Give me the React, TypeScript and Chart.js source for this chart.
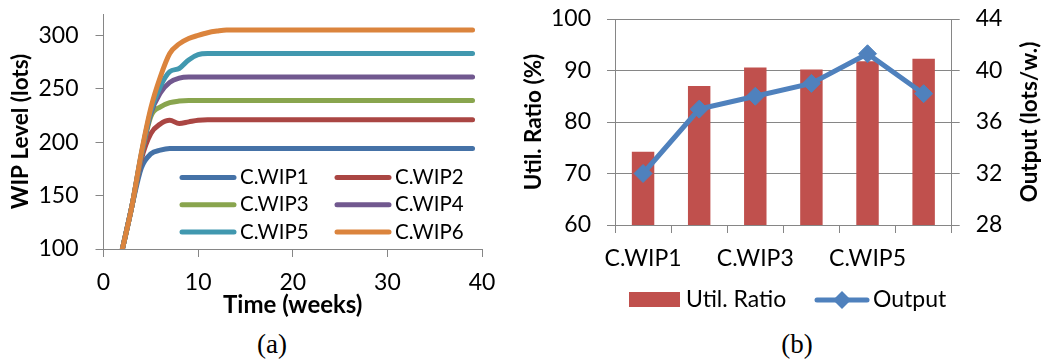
import React, { useEffect, useRef } from 'react';
import { Chart, registerables } from 'chart.js';

Chart.register(...registerables);

// ---------- Chart (a) data ----------
const weeks = [2, 3, 4, 5, 6, 7, 8, 9, 10, 11, 12, 13, 14, 15, 16, 17, 18, 19, 20, 21, 22, 23, 24, 25, 26, 27, 28, 29, 30, 31, 32, 33, 34, 35, 36, 37, 38, 39];
const wip1 = [100, 140, 176, 189, 192.5, 194, 194, 194, 194, 194, 194, 194, 194, 194, 194, 194, 194, 194, 194, 194, 194, 194, 194, 194, 194, 194, 194, 194, 194, 194, 194, 194, 194, 194, 194, 194, 194, 194];
const wip2 = [100, 140, 184, 208, 217, 220.5, 217.5, 219, 220.5, 221, 221, 221, 221, 221, 221, 221, 221, 221, 221, 221, 221, 221, 221, 221, 221, 221, 221, 221, 221, 221, 221, 221, 221, 221, 221, 221, 221, 221];
const wip3 = [100, 140, 187, 224, 233, 237, 238.5, 239, 239, 239, 239, 239, 239, 239, 239, 239, 239, 239, 239, 239, 239, 239, 239, 239, 239, 239, 239, 239, 239, 239, 239, 239, 239, 239, 239, 239, 239, 239];
const wip4 = [100, 140, 188, 227, 246, 256, 260, 261, 261, 261, 261, 261, 261, 261, 261, 261, 261, 261, 261, 261, 261, 261, 261, 261, 261, 261, 261, 261, 261, 261, 261, 261, 261, 261, 261, 261, 261, 261];
const wip5 = [100, 140, 189, 229, 252, 266, 269, 277, 282, 283, 283, 283, 283, 283, 283, 283, 283, 283, 283, 283, 283, 283, 283, 283, 283, 283, 283, 283, 283, 283, 283, 283, 283, 283, 283, 283, 283, 283];
const wip6 = [100, 140, 190, 232, 261, 283, 292, 297, 300, 302.5, 304, 305, 305, 305, 305, 305, 305, 305, 305, 305, 305, 305, 305, 305, 305, 305, 305, 305, 305, 305, 305, 305, 305, 305, 305, 305, 305, 305];
const seriesLabelsA = ['C.WIP1', 'C.WIP2', 'C.WIP3', 'C.WIP4', 'C.WIP5', 'C.WIP6'];
const seriesColorsA = ['#4572A7', '#AA4643', '#89A54E', '#71588F', '#4198AF', '#DB843D'];
const yTicksA = [100, 150, 200, 250, 300];
const xTicksA = [0, 10, 20, 30, 40];

// ---------- Chart (b) data ----------
const categoriesB = ['C.WIP1', 'C.WIP2', 'C.WIP3', 'C.WIP4', 'C.WIP5', 'C.WIP6'];
const utilRatio = [74.2, 87.0, 90.6, 90.2, 91.8, 92.3];
const outputRate = [32.0, 37.0, 38.0, 39.0, 41.3, 38.2];
const yTicksB = [60, 70, 80, 90, 100];
const y2TicksB = [28, 32, 36, 40, 44];

const AXIS = '#868686';
const FONT = 'Lato';
const TICK_SIZE = 23;
const TITLE_SIZE = 22.5;

const legendAPlugin = {
  id: 'legendA',
  afterDatasetsDraw(chart: any) {
    const ctx = chart.ctx;
    ctx.save();
    ctx.font = `20.5px ${FONT}`;
    ctx.textBaseline = 'middle';
    ctx.textAlign = 'left';
    chart.data.datasets.forEach((ds: any, i: number) => {
      const col = i % 2;
      const row = Math.floor(i / 2);
      const x0 = col === 0 ? 182 : 337;
      const y = 177.5 + row * 27.2;
      ctx.strokeStyle = ds.borderColor;
      ctx.lineWidth = 5;
      ctx.lineCap = 'round';
      ctx.beginPath();
      ctx.moveTo(x0, y);
      ctx.lineTo(x0 + 52, y);
      ctx.stroke();
      ctx.fillStyle = '#000';
      ctx.fillText(ds.label, x0 + 58, y);
    });
    ctx.restore();
  },
};

const legendBPlugin = {
  id: 'legendB',
  afterDraw(chart: any) {
    const ctx = chart.ctx;
    const bar = chart.data.datasets.find((d: any) => d.type === 'bar');
    const line = chart.data.datasets.find((d: any) => d.type === 'line');
    const y = 300;
    ctx.save();
    ctx.font = `${TICK_SIZE}px ${FONT}`;
    ctx.textBaseline = 'middle';
    ctx.textAlign = 'left';
    ctx.fillStyle = bar.backgroundColor;
    ctx.fillRect(109, 292, 51, 15);
    ctx.fillStyle = '#000';
    ctx.fillText(bar.label, 166, y);
    ctx.strokeStyle = line.borderColor;
    ctx.lineWidth = 5;
    ctx.lineCap = 'round';
    ctx.beginPath();
    ctx.moveTo(297, y);
    ctx.lineTo(347, y);
    ctx.stroke();
    const cx = 322, r = 9;
    ctx.fillStyle = line.borderColor;
    ctx.beginPath();
    ctx.moveTo(cx - r, y);
    ctx.lineTo(cx, y - r);
    ctx.lineTo(cx + r, y);
    ctx.lineTo(cx, y + r);
    ctx.closePath();
    ctx.fill();
    ctx.fillStyle = '#000';
    ctx.fillText(line.label, 353, y);

    // right axis title, reading bottom-to-top
    const area = chart.chartArea;
    ctx.save();
    ctx.translate(510, (area.top + area.bottom) / 2);
    ctx.rotate(-Math.PI / 2);
    ctx.font = `bold ${TITLE_SIZE}px ${FONT}`;
    ctx.textAlign = 'center';
    ctx.textBaseline = 'middle';
    ctx.fillText('Output (lots/w.)', 0, 0);
    ctx.restore();
    ctx.restore();
  },
};

const fitY = (width: number) => (s: any) => {
  s.width = width;
  s.paddingTop = 0;
  s.paddingBottom = 0;
};
const fitX = (height: number) => (s: any) => {
  s.height = height;
  s.paddingLeft = 0;
  s.paddingRight = 0;
};

export default function App() {
  const refA = useRef<HTMLCanvasElement>(null);
  const refB = useRef<HTMLCanvasElement>(null);

  useEffect(() => {
    const seriesA = [wip1, wip2, wip3, wip4, wip5, wip6];
    const chartA = new Chart(refA.current as HTMLCanvasElement, {
      type: 'line',
      data: {
        datasets: seriesA.map((vals, i) => ({
          label: seriesLabelsA[i],
          data: weeks.map((w, j) => ({ x: w, y: vals[j] })),
          borderColor: seriesColorsA[i],
          backgroundColor: seriesColorsA[i],
          borderWidth: 5,
          pointRadius: 0,
          cubicInterpolationMode: 'monotone' as const,
          borderCapStyle: 'round' as const,
          borderJoinStyle: 'round' as const,
          order: 5 - i,
        })),
      },
      options: {
        responsive: false,
        animation: false,
        layout: { padding: { top: 14, right: 38, left: 0, bottom: 0 } },
        plugins: { legend: { display: false }, tooltip: { enabled: false } },
        scales: {
          x: {
            type: 'linear',
            min: 0,
            max: 40,
            afterBuildTicks: (s: any) => { s.ticks = xTicksA.map((v) => ({ value: v })); },
            ticks: { color: '#000', font: { family: FONT, size: TICK_SIZE }, padding: 12 },
            grid: { drawOnChartArea: false, drawTicks: true, tickLength: 8, color: AXIS },
            border: { display: true, color: AXIS },
            title: { display: true, text: 'Time (weeks)', color: '#000', font: { family: FONT, size: 24, weight: 'bold' }, padding: { top: 0, bottom: 5 } },
            afterFit: fitX(76),
          },
          y: {
            type: 'linear',
            min: 100,
            max: 320,
            afterBuildTicks: (s: any) => { s.ticks = yTicksA.map((v) => ({ value: v })); },
            ticks: { color: '#000', font: { family: FONT, size: TICK_SIZE }, padding: 17 },
            grid: { drawOnChartArea: false, drawTicks: true, tickLength: 8, color: AXIS },
            border: { display: true, color: AXIS },
            title: { display: true, text: 'WIP Level (lots)', color: '#000', font: { family: FONT, size: TITLE_SIZE, weight: 'bold' }, padding: { top: 7, bottom: 0 } },
            afterFit: fitY(103.5),
          },
        },
      },
      plugins: [legendAPlugin],
    } as any);

    const chartB = new Chart(refB.current as HTMLCanvasElement, {
      type: 'bar',
      data: {
        labels: categoriesB,
        datasets: [
          {
            type: 'bar',
            label: 'Util. Ratio',
            data: utilRatio,
            backgroundColor: '#C0504D',
            borderWidth: 0,
            categoryPercentage: 1,
            barPercentage: 0.4,
            yAxisID: 'y',
            order: 2,
          },
          {
            type: 'line',
            label: 'Output',
            data: outputRate,
            borderColor: '#4F81BD',
            backgroundColor: '#4F81BD',
            borderWidth: 5,
            pointStyle: 'rectRot',
            pointRadius: 9,
            pointBorderWidth: 1,
            pointBackgroundColor: '#4F81BD',
            pointBorderColor: '#4F81BD',
            tension: 0,
            yAxisID: 'y2',
            order: 1,
          },
        ],
      },
      options: {
        responsive: false,
        animation: false,
        layout: { padding: { top: 19, right: 0, left: 0, bottom: 0 } },
        plugins: { legend: { display: false }, tooltip: { enabled: false } },
        scales: {
          x: {
            type: 'category',
            offset: true,
            ticks: {
              autoSkip: false,
              maxRotation: 0,
              color: '#000',
              font: { family: FONT, size: TICK_SIZE },
              padding: 12,
              callback: function (this: any, v: any, i: number) { return i % 2 === 0 ? this.getLabelForValue(v) : ''; },
            },
            grid: { offset: true, drawOnChartArea: false, drawTicks: true, tickLength: 8, color: AXIS },
            border: { display: true, color: AXIS },
            afterFit: fitX(100),
          },
          y: {
            type: 'linear',
            position: 'left',
            min: 60,
            max: 100,
            afterBuildTicks: (s: any) => { s.ticks = yTicksB.map((v) => ({ value: v })); },
            ticks: { color: '#000', font: { family: FONT, size: TICK_SIZE }, padding: 16 },
            grid: { drawOnChartArea: true, drawTicks: true, tickLength: 8, color: AXIS },
            border: { display: true, color: AXIS },
            title: { display: true, text: 'Util. Ratio (%)', color: '#000', font: { family: FONT, size: TITLE_SIZE, weight: 'bold' }, padding: { top: 0, bottom: 0 } },
            afterFit: fitY(95),
          },
          y2: {
            type: 'linear',
            position: 'right',
            min: 28,
            max: 44,
            afterBuildTicks: (s: any) => { s.ticks = y2TicksB.map((v) => ({ value: v })); },
            ticks: { color: '#000', font: { family: FONT, size: TICK_SIZE }, padding: 16 },
            grid: { drawOnChartArea: false, drawTicks: true, tickLength: 8, color: AXIS },
            border: { display: true, color: AXIS },
            title: { display: false },
            afterFit: fitY(92.3),
          },
        },
      },
      plugins: [legendBPlugin],
    } as any);

    return () => {
      chartA.destroy();
      chartB.destroy();
    };
  }, []);

  const captionStyle: React.CSSProperties = {
    position: 'absolute',
    width: 100,
    top: 327,
    height: 34,
    lineHeight: '34px',
    textAlign: 'center',
    fontFamily: '"Liberation Serif", serif',
    fontSize: 27,
    color: '#000',
  };

  return (
    <div style={{ position: 'absolute', left: 0, top: 0, width: 1044, height: 362, background: '#fff', overflow: 'hidden' }}>
      <canvas ref={refA} width={520} height={325} style={{ position: 'absolute', left: 0, top: 0 }} />
      <canvas ref={refB} width={524} height={325} style={{ position: 'absolute', left: 520, top: 0 }} />
      <div style={{ ...captionStyle, left: 222 }}>(a)</div>
      <div style={{ ...captionStyle, left: 747 }}>(b)</div>
    </div>
  );
}
